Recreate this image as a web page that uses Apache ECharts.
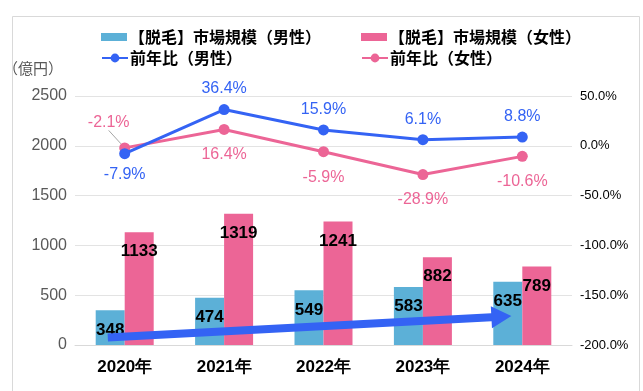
<!DOCTYPE html>
<html><head><meta charset="utf-8">
<script src="https://cdn.jsdelivr.net/npm/echarts@6/dist/echarts.min.js"></script>
<style>html,body{margin:0;padding:0;background:#fff}#c{width:643px;height:391px}</style>
</head><body><div id="c"></div>
<script>
const categories = ['2020年','2021年','2022年','2023年','2024年'];
const maleMarket = [348, 474, 549, 583, 635];
const femaleMarket = [1133, 1319, 1241, 882, 789];
const maleYoY = [-7.9, 36.4, 15.9, 6.1, 8.8];
const femaleYoY = [-2.1, 16.4, -5.9, -28.9, -10.6];
const leftAxis = {min: 0, max: 2500, interval: 500};
const rightAxis = {min: -200, max: 50, interval: 50};
const names = ['【脱毛】市場規模（男性）', '【脱毛】市場規模（女性）', '前年比（男性）', '前年比（女性）'];
const arrowFrom = [0, 75];
const arrowTo = [4, 290];

const BLUE_BAR = '#5cb0d7', PINK = '#ec6596', BLUE = '#3463f4';
const JP = '"Noto Sans CJK JP", "Liberation Sans", sans-serif';
const NUM = '"Liberation Sans", Arial, sans-serif';

const chart = echarts.init(document.getElementById('c'), null, {renderer: 'canvas'});

function legend(name, left, top, isLine) {
  return {
    data: [name], left: left, top: top, itemWidth: 26, itemHeight: isLine ? 11 : 8, itemGap: 0,
    icon: isLine ? undefined : 'rect',
    textStyle: {fontFamily: JP, fontSize: 16, fontWeight: 'bold', color: '#000', padding: [0,0,0,-3]},
    selectedMode: false
  };
}

const option = {
  backgroundColor: '#fff',
  animation: false,
  legend: [
    legend(names[0], 96, 24, false),
    legend(names[1], 356, 24, false),
    legend(names[2], 96, 45, true),
    legend(names[3], 356, 45, true)
  ],
  grid: {left: 68, right: 71, top: 96, bottom: 46},
  xAxis: {
    type: 'category', data: categories,
    axisLine: {lineStyle: {color: '#d9d9d9'}}, axisTick: {show: false},
    axisLabel: {fontFamily: NUM, fontSize: 17, fontWeight: 'bold', color: '#000', margin: 14}
  },
  yAxis: [{
    type: 'value', min: leftAxis.min, max: leftAxis.max, interval: leftAxis.interval,
    name: '（億円）', nameLocation: 'end', nameGap: 20,
    nameTextStyle: {fontFamily: JP, fontSize: 15, color: '#595959', align: 'right', padding: [0, 12, 0, 0]},
    axisLine: {show: false}, axisTick: {show: false},
    axisLabel: {fontFamily: NUM, fontSize: 16, color: '#595959', margin: 8, formatter: v => String(v)},
    splitLine: {lineStyle: {color: '#e3e3e3', width: 1}}
  }, {
    type: 'value', min: rightAxis.min, max: rightAxis.max, interval: rightAxis.interval,
    axisLine: {show: false}, axisTick: {show: false}, splitLine: {show: false},
    axisLabel: {fontFamily: NUM, fontSize: 13, color: '#000', margin: 8,
      formatter: v => v.toFixed(1) + '%'}
  }],
  series: [{
    name: names[0], type: 'bar', data: maleMarket, barWidth: 29, barGap: '0%',
    itemStyle: {color: BLUE_BAR},
    label: {show: true, position: 'insideTop', distance: 11, fontFamily: NUM, fontSize: 17, fontWeight: 'bold', color: '#000'},
    z: 2
  }, {
    name: names[1], type: 'bar', data: femaleMarket, barWidth: 29,
    itemStyle: {color: PINK},
    label: {show: true, position: 'insideTop', distance: 11, fontFamily: NUM, fontSize: 17, fontWeight: 'bold', color: '#000'},
    z: 2
  }, {
    name: names[2], type: 'line', yAxisIndex: 1,
    data: maleYoY.map((v, i) => i === 0 ? {value: v, label: {position: 'bottom'}} : v),
    symbol: 'circle', symbolSize: 11, lineStyle: {color: BLUE, width: 3}, itemStyle: {color: BLUE},
    label: {show: true, position: 'top', distance: 7, fontFamily: NUM, fontSize: 16, color: BLUE,
      formatter: p => p.value.toFixed(1) + '%'},
    z: 5
  }, {
    name: names[3], type: 'line', yAxisIndex: 1,
    data: femaleYoY.map((v, i) => i === 0 ? {value: v, label: {position: 'top', offset: [-16, 0]},
      labelLine: {show: true, lineStyle: {color: '#a6a6a6', width: 1}}} : v),
    symbol: 'circle', symbolSize: 11, lineStyle: {color: PINK, width: 3}, itemStyle: {color: PINK},
    label: {show: true, position: 'bottom', distance: 12, fontFamily: NUM, fontSize: 16, color: PINK,
      formatter: p => p.value.toFixed(1) + '%'},
    labelLine: {show: false},
    z: 4
  }]
};
chart.setOption(option);

function drawOverlay() {
  const a = chart.convertToPixel({gridIndex: 0}, arrowFrom);
  const b = chart.convertToPixel({gridIndex: 0}, arrowTo);
  const band = (b[0] - a[0]) / (arrowTo[0] - arrowFrom[0]);
  const sx = a[0] - 0.17 * band, sy = a[1];
  const tx = b[0] - 0.11 * band, ty = b[1];
  const dx = tx - sx, dy = ty - sy, L = Math.hypot(dx, dy);
  const ux = dx / L, uy = dy / L, nx = -uy, ny = ux;
  const headLen = 20, headHalf = 11, shaftHalf = 4;
  const bx = tx - ux * headLen, by = ty - uy * headLen;
  chart.setOption({
    graphic: [{
      type: 'rect', left: 10, top: 14, shape: {x: 0, y: 0, width: 627, height: 375},
      style: {fill: 'none', stroke: '#d9d9d9', lineWidth: 1}, silent: true, z: -10
    }, {
      type: 'polygon', z: 3,
      shape: {points: [
        [sx + nx * shaftHalf, sy + ny * shaftHalf],
        [bx + nx * shaftHalf, by + ny * shaftHalf],
        [bx + nx * headHalf, by + ny * headHalf],
        [tx, ty],
        [bx - nx * headHalf, by - ny * headHalf],
        [bx - nx * shaftHalf, by - ny * shaftHalf],
        [sx - nx * shaftHalf, sy - ny * shaftHalf]
      ]},
      style: {fill: BLUE}, silent: true
    }]
  });
}
drawOverlay();
</script></body></html>
